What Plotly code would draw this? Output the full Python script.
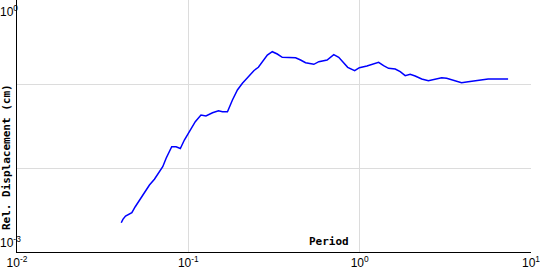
import math
import plotly.graph_objects as go

# Response spectrum: period (s) vs relative displacement (cm)
period = [0.0406, 0.0415, 0.0430, 0.0454, 0.0468, 0.0490, 0.0519, 0.0555, 0.0593, 0.0634,
          0.0672, 0.0709, 0.0742, 0.0768, 0.0800, 0.0848, 0.0898, 0.0948, 0.1013, 0.1098,
          0.1185, 0.1267, 0.1384, 0.1500, 0.1582, 0.1692, 0.1809, 0.1934, 0.2068, 0.2263,
          0.2419, 0.2563, 0.2704, 0.2891, 0.3091, 0.3305, 0.3534, 0.4228, 0.4520, 0.4834,
          0.5403, 0.5776, 0.6455, 0.7060, 0.7548, 0.8072, 0.8516, 0.9352, 0.9962, 1.1026,
          1.206, 1.2897, 1.3791, 1.4745, 1.6130, 1.7245, 1.8443, 1.9719, 2.108, 2.302,
          2.518, 2.754, 3.009, 3.218, 3.520, 3.933, 4.302, 4.919, 5.623, 7.349]
displacement = [0.00223, 0.00245, 0.00268, 0.00283, 0.00294, 0.00346, 0.00416, 0.00522, 0.00628, 0.00734,
                0.00865, 0.01036, 0.01305, 0.01496, 0.01793, 0.01793, 0.01706, 0.02154, 0.02705, 0.03557,
                0.04276, 0.04159, 0.04551, 0.04809, 0.04679, 0.04679, 0.06449, 0.08483, 0.1019, 0.1245,
                0.1448, 0.1580, 0.1843, 0.2214, 0.2424, 0.2276, 0.2079, 0.2056, 0.1931, 0.1793,
                0.1716, 0.1843, 0.1931, 0.2233, 0.2079, 0.1764, 0.1580, 0.1440, 0.1563, 0.1638,
                0.1716, 0.1813, 0.1651, 0.1538, 0.1509, 0.1401, 0.1256, 0.1305, 0.1245, 0.1147,
                0.1095, 0.1138, 0.1189, 0.1169, 0.1116, 0.1036, 0.1065, 0.1095, 0.1147, 0.1147]

x_tick_vals = [0.01, 0.1, 1, 10]
x_tick_text = ["10<sup>-2</sup>", "10<sup>-1</sup>", "10<sup>0</sup>", "10<sup>1</sup>"]
y_tick_vals = [0.001, 0.01, 0.1, 1]
y_label_vals = [1, 0.001]
y_label_text = ["10<sup>0</sup>", "10<sup>-3</sup>"]
x_title = "Period"
y_title = "Rel. Displacement (cm)"

fig = go.Figure()
fig.add_trace(go.Scatter(x=period, y=displacement, mode="lines",
                         line=dict(color="#0000ff", width=1.5), showlegend=False))

fig.update_xaxes(type="log", range=[-2, 1], tickvals=x_tick_vals, ticktext=x_tick_text,
                 showgrid=True, gridcolor="#dcdcdc", gridwidth=1,
                 showline=True, linecolor="black", linewidth=1, ticks="",
                 ticklabeloverflow="allow",
                 tickfont=dict(family="Liberation Sans", size=12, color="black"),
                 zeroline=False)
fig.update_yaxes(type="log", range=[-3, 0], tickvals=y_tick_vals, showticklabels=False,
                 showgrid=True, gridcolor="#dcdcdc", gridwidth=1,
                 showline=True, linecolor="black", linewidth=1, ticks="",
                 zeroline=False)

anchors = ["top", "bottom"]
shifts = [-1, 0]
for v, t, a, s in zip(y_label_vals, y_label_text, anchors, shifts):
    fig.add_annotation(x=-17 / 516, xref="paper", xanchor="left", xshift=-2,
                       y=math.log10(v), yref="y", yanchor=a, yshift=s,
                       text=t, showarrow=False,
                       font=dict(family="Liberation Sans", size=12, color="black"))

fig.add_annotation(x=0.6066, xref="paper", y=0.0397, yref="paper",
                   xanchor="center", yanchor="middle", text="<b>" + x_title + "</b>",
                   showarrow=False,
                   font=dict(family="DejaVu Sans Mono", size=11, color="black"))
fig.add_annotation(x=-0.0194, xref="paper", y=0.377, yref="paper",
                   xanchor="center", yanchor="middle", text="<b>" + y_title + "</b>",
                   textangle=-90, showarrow=False,
                   font=dict(family="DejaVu Sans Mono", size=11, color="black"))

fig.update_layout(width=540, height=270, margin=dict(l=17, r=7, t=0, b=18),
                  plot_bgcolor="white", paper_bgcolor="white")

fig.write_html("out.html")
